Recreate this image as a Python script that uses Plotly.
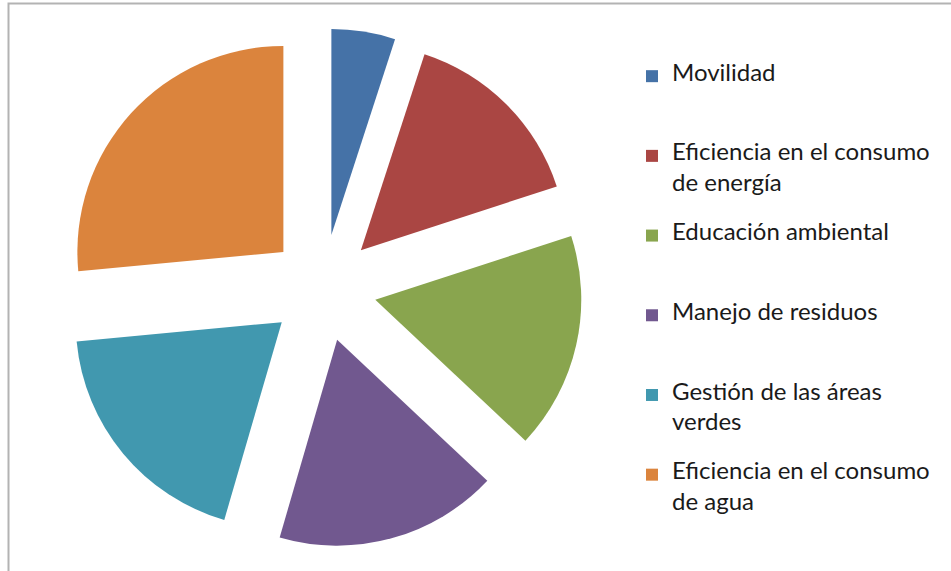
import textwrap
import plotly.graph_objects as go

# datos del gráfico (porcentajes)
categorias = ["Movilidad",
              "Eficiencia en el consumo de energía",
              "Educación ambiental",
              "Manejo de residuos",
              "Gestión de las áreas verdes",
              "Eficiencia en el consumo de agua"]
valores = [5, 15, 17, 17.5, 19, 26.5]
colores = ["#4572A7", "#AA4643", "#89A54E", "#71588F", "#4198AF", "#DB843D"]

W, H = 951, 571
BLANCO = "\u00a0"


def etiqueta(txt):
    # texto en 2 renglones, separados por una línea vacía (interlineado ~30px)
    lineas = textwrap.wrap(txt, 24) + [BLANCO]
    spans = ['<span style="font-size:24px">%s</span>' % l for l in lineas[:2]]
    return "<br>".join([spans[0], BLANCO, spans[1], BLANCO, BLANCO])


# geometría de la torta
cx, cy = 323, 288
radio = 206
pull = 0.26
semi = radio * (1 + pull)

data = dict(type='pie',
            labels=[etiqueta(c) for c in categorias],
            values=valores,
            sort=False,
            direction='clockwise',
            rotation=0,
            pull=[pull] * len(valores),
            marker=dict(colors=colores, line=dict(width=0)),
            textinfo='none',
            hoverinfo='percent',
            domain=dict(x=[(cx - semi) / W, (cx + semi) / W],
                        y=[(H - cy - semi) / H, (H - cy + semi) / H]))

layout = dict(width=W, height=H,
              margin=dict(l=0, r=0, t=0, b=0),
              paper_bgcolor='white',
              showlegend=True,
              legend=dict(x=632 / W, xanchor='left',
                          y=1 - 62 / H, yanchor='top',
                          valign='top',
                          font=dict(family='Lato', size=11.8, color='#1a1a1a'),
                          bgcolor='rgba(0,0,0,0)'),
              shapes=[dict(type='rect', xref='paper', yref='paper',
                           x0=8.5 / W, x1=1.2, y0=-0.2, y1=1 - 3.5 / H,
                           line=dict(color='#b3b3b3', width=2))])

fig = go.Figure(data=[data], layout=layout)
fig.write_html("out.html", config={'displayModeBar': False},
               post_script="document.body.style.margin='0';")
